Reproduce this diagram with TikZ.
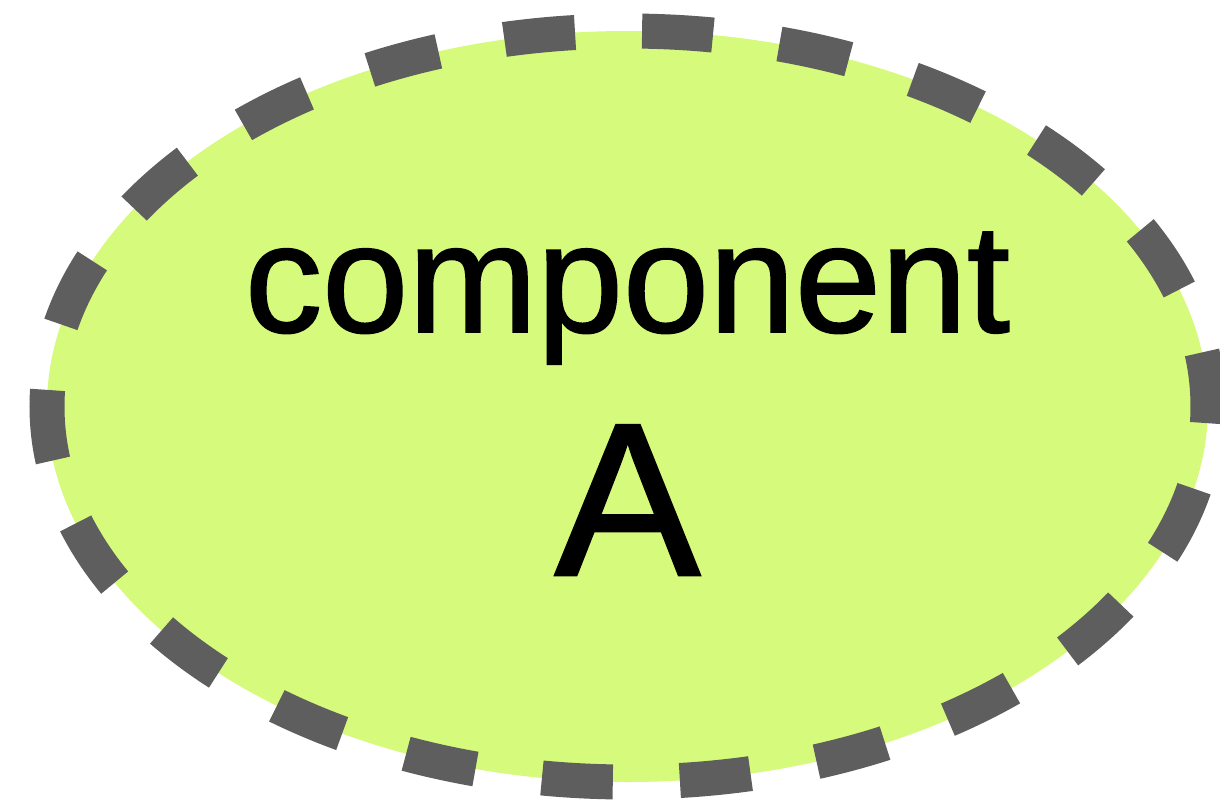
\documentclass[tikz,border=0pt]{standalone}
\usepackage{fontspec}
\setmainfont{Liberation Sans}
\newfontfamily\heavysans[FakeBold=1.2]{Liberation Sans}
\usepackage{xcolor}
\usepackage{tikz}
\usetikzlibrary{positioning, shapes, calc}

\definecolor{limefill}{HTML}{D6FA7B}
\definecolor{dashgray}{HTML}{5E5E5E}

\begin{document}
\begin{tikzpicture}[
    comp/.style={ellipse, fill=limefill, draw=dashgray, line width=0.35cm,
      dash pattern=on 0.71cm off 0.671cm, dash phase=0.165cm,
      minimum width=11.61cm, minimum height=7.51cm, inner sep=0pt},
    word/.style={anchor=base, inner sep=0pt, font=\heavysans\fontsize{44}{50}\selectfont},
    letter/.style={anchor=base, inner sep=0pt, font=\heavysans\fontsize{62}{70}\selectfont}]
  \useasboundingbox (0,0) rectangle (12.2,8.04);
  \node[comp] (compA) at (6.275,3.975) {};
  \node[word] (name) at ($(compA.center)+(0,0.745)$) {component};
  \node[letter] (tag) at ($(compA.center)+(0,-1.685)$) {A};
\end{tikzpicture}
\end{document}
